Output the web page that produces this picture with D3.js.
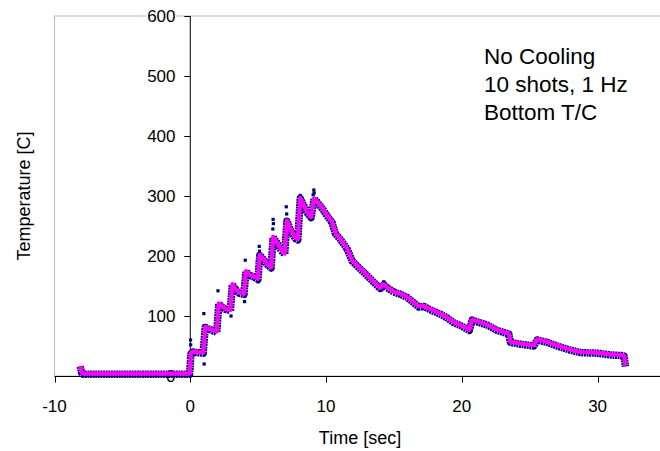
<!DOCTYPE html>
<html>
<head>
<meta charset="utf-8">
<script src="https://cdn.jsdelivr.net/npm/d3@7"></script>
<style>
  html, body { margin: 0; padding: 0; background: #fff; }
  svg { display: block; font-family: Arial, "Liberation Sans", sans-serif; }
</style>
</head>
<body>
<svg id="chart" width="660" height="451"></svg>
<script>
// ---- Data ----
const timeSec = [
  -8.1, -8.0, -7.9, -6, -4, -2, -0.05,
  0.05, 0.2, 0.5, 0.95,
  1.1, 1.3, 1.6, 1.95,
  2.1, 2.3, 2.6, 2.95,
  3.1, 3.3, 3.6, 3.95,
  4.1, 4.35, 4.7, 4.98,
  5.12, 5.35, 5.7, 5.95,
  6.1, 6.35, 6.7, 6.95,
  7.12, 7.4, 7.75, 7.92,
  8.1, 8.35, 8.65, 8.9,
  9.12, 9.3, 9.58, 9.85, 10.07, 10.44, 10.69, 11.0, 11.55, 11.91,
  12.3, 12.77, 13.39, 13.88, 14.0, 14.25, 14.5, 14.98, 15.5, 15.97,
  16.4, 16.83, 17.2, 17.8, 18.42, 18.9, 19.4, 19.9, 20.39, 20.55,
  20.76, 21.3, 21.86, 22.6, 23.46, 23.58, 24.32, 25.3, 25.55, 26.29,
  27.27, 28.0, 28.74, 29.97, 30.95, 31.8, 31.95, 32.05
];
const tempSmooth = [
  17, 6, 4, 4, 4, 4, 4,
  38, 41, 40, 39,
  82, 80, 77, 74,
  121, 117, 112, 110,
  153, 146, 139, 137,
  175, 169, 166, 162,
  202, 196, 186, 181,
  232, 224, 210, 204,
  259, 243, 230, 228,
  297, 285, 272, 265,
  296, 292, 284, 276, 268, 257, 238, 230, 213, 193,
  184, 174, 160, 149, 147, 153, 148, 141, 137, 132,
  124, 116, 117, 110, 104, 98, 90, 85, 79, 77,
  94, 90, 86, 77, 71, 57, 54, 51, 61, 57,
  49, 44, 40, 39, 36, 35, 34, 17
];
// raw thermocouple readings that stand out from the smoothed trace
const spikeTime = [0.02, 0.03, 1.0, 1.02, 2.04, 3.0, 4.05, 4.0, 5.0, 5.08, 5.1, 6.1, 6.12, 6.08, 7.07, 7.1, 8.1, 9.1, 9.12, 9.05, 14.25];
const spikeTemp = [60, 52, 104, 20, 142, 100, 193, 124, 157, 216, 208, 261, 254, 245, 282, 270, 301, 310, 305, 302, 157];

const xTicks = [-10, 0, 10, 20, 30];
const yTicks = [0, 100, 200, 300, 400, 500, 600];
const noteLines = ["No Cooling", "10 shots, 1 Hz", "Bottom T/C"];
const xTitle = "Time [sec]";
const yTitle = "Temperature [C]";

// ---- Drawing ----
const svg = d3.select("#chart");
const x = d3.scaleLinear().domain([-10, 35]).range([54.5, 665.5]);
const y = d3.scaleLinear().domain([0, 600]).range([376, 16]);

svg.append("rect").attr("width", 660).attr("height", 451).attr("fill", "#fff");

// plot area border
svg.append("rect")
  .attr("x", x(-10)).attr("y", y(600))
  .attr("width", x(35) - x(-10)).attr("height", y(0) - y(600))
  .attr("fill", "none").attr("stroke", "#c4c4c4").attr("stroke-width", 1.2);

// y axis labels (with white background like the original)
const yLab = svg.append("g");
yTicks.forEach(v => {
  const t = yLab.append("text")
    .attr("x", 175.5).attr("y", y(v) + 6)
    .attr("text-anchor", "end").attr("font-size", 17).attr("fill", "#000")
    .text(v);
  const bb = t.node().getBBox();
  yLab.insert("rect", "text")
    .attr("x", bb.x - 1).attr("y", y(v) - 2).attr("width", bb.width + 2).attr("height", 4)
    .attr("fill", "#fff");
});

// y axis line + ticks
svg.append("line")
  .attr("x1", x(0)).attr("x2", x(0)).attr("y1", y(600)).attr("y2", y(0))
  .attr("stroke", "#000").attr("stroke-width", 1);
svg.selectAll(".yt").data(yTicks).enter().append("line")
  .attr("x1", x(0) - 6).attr("x2", x(0))
  .attr("y1", d => Math.round(y(d)) + 0.5).attr("y2", d => Math.round(y(d)) + 0.5)
  .attr("stroke", "#000").attr("stroke-width", 1);

// x axis line + ticks + labels
svg.append("line")
  .attr("x1", x(-10)).attr("x2", 660).attr("y1", 376.5).attr("y2", 376.5)
  .attr("stroke", "#000").attr("stroke-width", 1);
svg.selectAll(".xt").data(xTicks).enter().append("line")
  .attr("x1", d => Math.round(x(d)) + 0.5).attr("x2", d => Math.round(x(d)) + 0.5)
  .attr("y1", 376.5).attr("y2", 382.5)
  .attr("stroke", "#000").attr("stroke-width", 1);
svg.selectAll(".xl").data(xTicks).enter().append("text")
  .attr("x", d => x(d)).attr("y", 411.5)
  .attr("text-anchor", "middle").attr("font-size", 17).attr("fill", "#000")
  .text(d => d);

// titles
svg.append("text")
  .attr("x", (x(-10) + x(35)) / 2).attr("y", 444)
  .attr("text-anchor", "middle").attr("font-size", 18).attr("fill", "#000")
  .text(xTitle);
svg.append("text")
  .attr("transform", `translate(30,${(y(0) + y(600)) / 2}) rotate(-90)`)
  .attr("text-anchor", "middle").attr("font-size", 18).attr("fill", "#000")
  .text(yTitle);

// annotation
svg.selectAll(".note").data(noteLines).enter().append("text")
  .attr("x", 484).attr("y", (d, i) => 64 + i * 28)
  .attr("font-size", 22.5).attr("fill", "#000")
  .text(d => d);

// data
const pts = timeSec.map((t, i) => [t, tempSmooth[i]]);
const line = d3.line().x(d => x(d[0])).y(d => y(d[1]));

// navy raw-data band
svg.append("path").datum(pts)
  .attr("d", line).attr("fill", "none")
  .attr("stroke", "#000080").attr("stroke-width", 7.5)
  .attr("stroke-linejoin", "round").attr("stroke-dasharray", "2,0.6")
  .attr("transform", "translate(0,0.6)");

// spikes
svg.selectAll(".sp").data(spikeTime).enter().append("rect")
  .attr("x", d => x(d) - 1.6)
  .attr("y", (d, i) => y(spikeTemp[i]) - 1.6)
  .attr("width", 3.2).attr("height", 3.2)
  .attr("fill", "#000080");

// magenta smoothed trace
svg.append("path").datum(pts)
  .attr("d", line).attr("fill", "none")
  .attr("stroke", "#ff00ff").attr("stroke-width", 4.2)
  .attr("stroke-linejoin", "round");
</script>
</body>
</html>
